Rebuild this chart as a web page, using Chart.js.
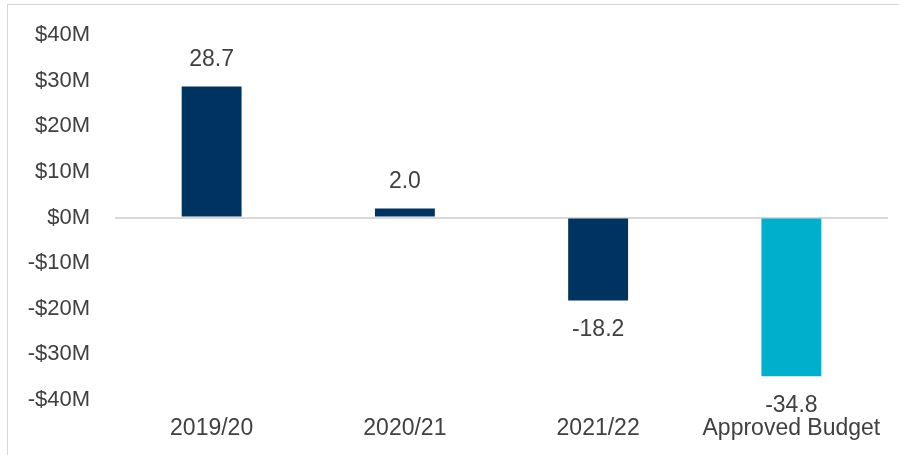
<!DOCTYPE html>
<html>
<head>
<meta charset="utf-8">
<script src="https://cdn.jsdelivr.net/npm/chart.js@4"></script>
<style>
  html, body { margin: 0; padding: 0; background: #fff; }
  #frame {
    position: absolute; left: 7px; top: 4px; width: 900px; height: 460px;
    border-top: 1px solid #d6d6d6; border-left: 1px solid #d6d6d6;
  }
  #wrap { position: absolute; left: 0; top: 0; width: 891px; height: 450px; }
</style>
</head>
<body>
<div id="frame"><div id="wrap"><canvas id="surplusChart"></canvas></div></div>
<script>
const categories = ['2019/20', '2020/21', '2021/22', 'Approved Budget'];
const values = [28.7, 2.0, -18.2, -34.8];
const barColors = ['#00335f', '#00335f', '#00335f', '#00afcb'];
const yTicks = [-40, -30, -20, -10, 0, 10, 20, 30, 40];

const FONT = '"Liberation Sans", Arial, sans-serif';
const TEXT = '#404040';

// value labels above / below each bar
const barLabels = {
  id: 'barLabels',
  afterDatasetsDraw(chart) {
    const ctx = chart.ctx;
    const meta = chart.getDatasetMeta(0);
    ctx.save();
    ctx.font = '23px ' + FONT;
    ctx.fillStyle = TEXT;
    ctx.textAlign = 'center';
    ctx.textBaseline = 'middle';
    meta.data.forEach((bar, i) => {
      const v = values[i];
      const y = v >= 0 ? bar.y - 27 : bar.y + 29;
      ctx.fillText(v.toFixed(1), bar.x, y);
    });
    ctx.restore();
  }
};

new Chart(document.getElementById('surplusChart').getContext('2d'), {
  type: 'bar',
  data: {
    labels: categories,
    datasets: [{
      data: values,
      backgroundColor: barColors,
      borderWidth: 0,
      categoryPercentage: 1,
      barPercentage: 0.31
    }]
  },
  options: {
    responsive: true, maintainAspectRatio: false, animation: false,
    layout: { padding: { top: 30, right: 11, left: 0, bottom: 0 } },
    plugins: { legend: { display: false }, tooltip: { enabled: false } },
    scales: {
      x: {
        grid: { display: false },
        border: { display: false },
        ticks: { color: TEXT, font: { family: FONT, size: 23 }, padding: 7, maxRotation: 0, autoSkip: false },
        afterFit(scale) { scale.height = 55; scale.paddingLeft = 0; scale.paddingRight = 0; }
      },
      y: {
        min: -40, max: 40,
        afterBuildTicks(scale) { scale.ticks = yTicks.map(v => ({ value: v })); },
        grid: {
          color: c => c.tick && c.tick.value === 0 ? '#d9d9d9' : 'rgba(0,0,0,0)',
          lineWidth: 2, drawTicks: false
        },
        border: { display: false },
        ticks: {
          color: TEXT, font: { family: FONT, size: 22 }, padding: 25,
          callback: v => (v < 0 ? '-$' : '$') + Math.abs(v) + 'M'
        },
        afterFit(scale) { scale.width = 107; scale.paddingTop = 0; scale.paddingBottom = 0; }
      }
    }
  },
  plugins: [barLabels]
});
</script>
</body>
</html>
